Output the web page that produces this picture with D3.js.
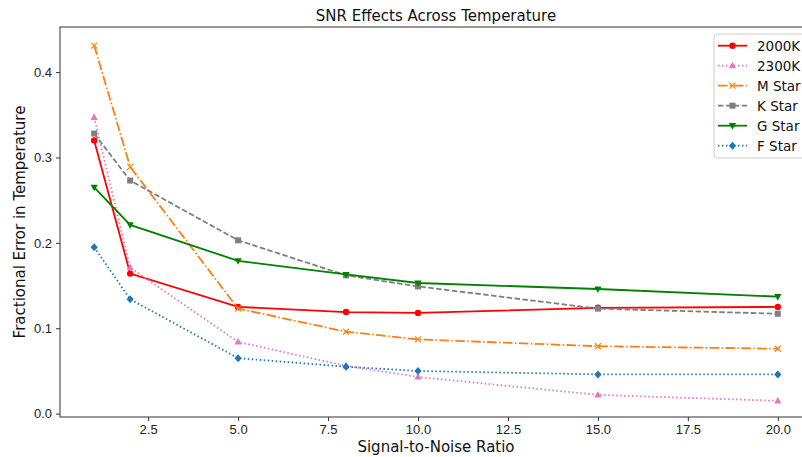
<!DOCTYPE html>
<html>
<head>
<meta charset="utf-8">
<script src="https://cdn.jsdelivr.net/npm/d3@7"></script>
<style>
  html, body { margin: 0; padding: 0; background: #fff; overflow: hidden; }
  svg { display: block; font-family: 'DejaVu Sans', sans-serif; }
</style>
</head>
<body>
<svg id="chart" width="802" height="457"></svg>
<script>
// signal-to-noise values on the x axis
const snr = [1, 2, 5, 8, 10, 15, 20]

// fractional error per temperature series
const err2000K = [0.320, 0.164, 0.125, 0.119, 0.118, 0.124, 0.125]
const err2300K = [0.347, 0.171, 0.084, 0.056, 0.043, 0.022, 0.015]
const errM = [0.431, 0.289, 0.123, 0.096, 0.087, 0.079, 0.076]
const errK = [0.328, 0.273, 0.203, 0.162, 0.149, 0.123, 0.117]
const errG = [0.265, 0.221, 0.179, 0.163, 0.153, 0.146, 0.137]
const errF = [0.195, 0.134, 0.065, 0.055, 0.050, 0.046, 0.046]

const seriesNames = ['2000K', '2300K', 'M Star', 'K Star', 'G Star', 'F Star']

const xTicks = [2.5, 5.0, 7.5, 10.0, 12.5, 15.0, 17.5, 20.0]
const yTicks = [0.0, 0.1, 0.2, 0.3, 0.4]

const styles = [
  { color: '#ff0000', dash: null, marker: 'circle' },
  { color: '#e377c2', dash: '1.5,2.5', marker: 'triangleUp' },
  { color: '#ff7f0e', dash: '9.6,2.4,1.5,2.4', marker: 'x' },
  { color: '#7f7f7f', dash: '5.5,2.4', marker: 'square' },
  { color: '#008000', dash: null, marker: 'triangleDown' },
  { color: '#1f77b4', dash: '1.5,2.5', marker: 'diamond' }
]

const allValues = [err2000K, err2300K, errM, errK, errG, errF]

const margin = { top: 27, left: 60, bottom: 417, right: 812 }

const svg = d3.select('#chart')

const x = d3.scaleLinear().domain([0.05, 20.95]).range([margin.left, margin.right])
const y = d3.scaleLinear().domain([-0.0039, 0.4528]).range([margin.bottom, margin.top])

// frame
svg.append('rect')
  .attr('x', margin.left).attr('y', margin.top)
  .attr('width', margin.right - margin.left)
  .attr('height', margin.bottom - margin.top)
  .attr('fill', 'none').attr('stroke', '#333').attr('stroke-width', 1)

// axes
const xAxis = d3.axisBottom(x).tickValues(xTicks).tickFormat(d3.format('.1f')).tickSize(4).tickPadding(4)
const yAxis = d3.axisLeft(y).tickValues(yTicks).tickFormat(d3.format('.1f')).tickSize(4).tickPadding(4)

const gx = svg.append('g').attr('transform', `translate(0,${margin.bottom})`).call(xAxis)
const gy = svg.append('g').attr('transform', `translate(${margin.left},0)`).call(yAxis)

for (const g of [gx, gy]) {
  g.select('.domain').remove()
  g.selectAll('line').attr('stroke', '#333')
  g.selectAll('text').attr('fill', '#222').style('font-size', '13px')
}

// marker shapes
function drawMarker (g, type, cx, cy, color) {
  if (type === 'circle') {
    g.append('circle').attr('cx', cx).attr('cy', cy).attr('r', 3.2).attr('fill', color)
  } else if (type === 'square') {
    g.append('rect').attr('x', cx - 3).attr('y', cy - 3).attr('width', 6).attr('height', 6).attr('fill', color)
  } else if (type === 'triangleUp') {
    g.append('path').attr('d', `M${cx},${cy - 4}L${cx + 3.6},${cy + 2.6}L${cx - 3.6},${cy + 2.6}Z`).attr('fill', color)
  } else if (type === 'triangleDown') {
    g.append('path').attr('d', `M${cx},${cy + 4}L${cx + 3.6},${cy - 2.6}L${cx - 3.6},${cy - 2.6}Z`).attr('fill', color)
  } else if (type === 'diamond') {
    g.append('path').attr('d', `M${cx},${cy - 4}L${cx + 3.6},${cy}L${cx},${cy + 4}L${cx - 3.6},${cy}Z`).attr('fill', color)
  } else if (type === 'x') {
    g.append('path').attr('d', `M${cx - 3},${cy - 3}L${cx + 3},${cy + 3}M${cx - 3},${cy + 3}L${cx + 3},${cy - 3}`)
      .attr('stroke', color).attr('stroke-width', 1.2).attr('fill', 'none')
  }
}

const plot = svg.append('g')

const line = d3.line()
  .x(d => x(d[0]))
  .y(d => y(d[1]))

allValues.forEach((vals, i) => {
  const st = styles[i]
  const pts = snr.map((s, j) => [s, vals[j]])
  const g = plot.append('g')
  g.append('path')
    .datum(pts)
    .attr('d', line)
    .attr('fill', 'none')
    .attr('stroke', st.color)
    .attr('stroke-width', 1.8)
    .attr('stroke-dasharray', st.dash)
  pts.forEach(p => drawMarker(g, st.marker, x(p[0]), y(p[1]), st.color))
})

// title and labels
svg.append('text')
  .attr('x', (margin.left + margin.right) / 2).attr('y', 21)
  .attr('text-anchor', 'middle').style('font-size', '15px').attr('fill', '#111')
  .text('SNR Effects Across Temperature')

svg.append('text')
  .attr('x', (margin.left + margin.right) / 2).attr('y', 452)
  .attr('text-anchor', 'middle').style('font-size', '15px').attr('fill', '#111')
  .text('Signal-to-Noise Ratio')

svg.append('text')
  .attr('transform', `translate(25,${(margin.top + margin.bottom) / 2}) rotate(-90)`)
  .attr('text-anchor', 'middle').style('font-size', '15px').attr('fill', '#111')
  .text('Fractional Error in Temperature')

// legend
const legend = svg.append('g')
legend.append('rect')
  .attr('x', 714).attr('y', 34).attr('width', 100).attr('height', 124)
  .attr('rx', 3)
  .attr('fill', 'white').attr('fill-opacity', 0.85)
  .attr('stroke', '#ccc').attr('stroke-width', 1)

seriesNames.forEach((name, i) => {
  const st = styles[i]
  const ly = 45.7 + i * 20
  const row = legend.append('g')
  row.append('line')
    .attr('x1', 718).attr('x2', 747).attr('y1', ly).attr('y2', ly)
    .attr('stroke', st.color).attr('stroke-width', 1.8)
    .attr('stroke-dasharray', st.dash)
  drawMarker(row, st.marker, 732.5, ly, st.color)
  row.append('text')
    .attr('x', 757).attr('y', ly + 4.8)
    .style('font-size', '13.5px').attr('fill', '#111')
    .text(name)
})
</script>
</body>
</html>
